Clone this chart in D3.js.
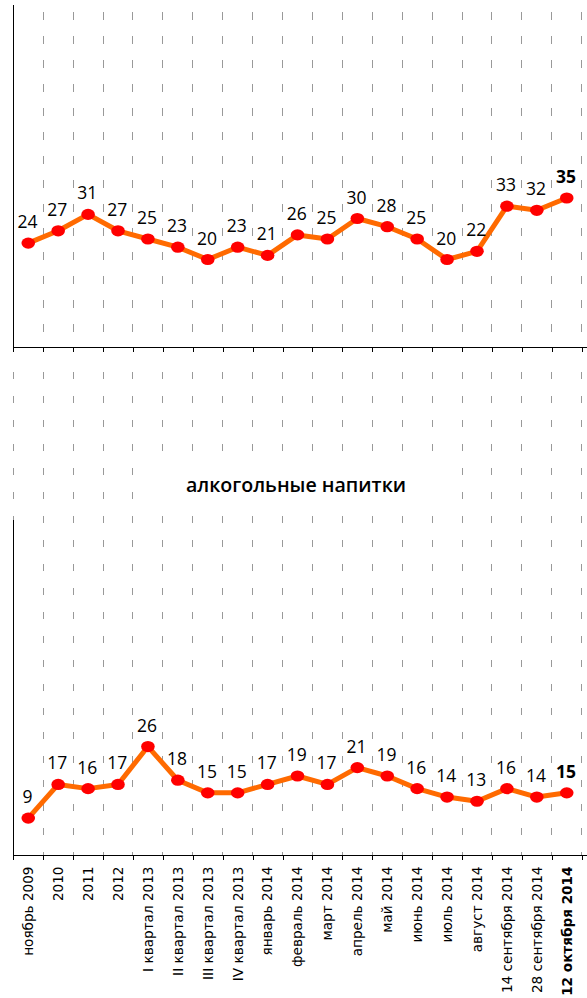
<!DOCTYPE html>
<html>
<head>
<meta charset="utf-8">
<script src="https://cdn.jsdelivr.net/npm/d3@7"></script>
<style>
  html, body { margin: 0; padding: 0; background: #fff; }
  svg { display: block; }
</style>
</head>
<body>
<svg id="chart" width="587" height="998"></svg>
<script>
const categories = ["ноябрь 2009","2010","2011","2012","I квартал 2013","II квартал 2013","III квартал 2013","IV квартал 2013","январь 2014","февраль 2014","март 2014","апрель 2014","май 2014","июнь 2014","июль 2014","август 2014","14 сентября 2014","28 сентября 2014","12 октября 2014"];
const topValues = [24,27,31,27,25,23,20,23,21,26,25,30,28,25,20,22,33,32,35];
const bottomValues = [9,17,16,17,26,18,15,15,17,19,17,21,19,16,14,13,16,14,15];
const bottomTitle = "алкогольные напитки";

const W = 587, H = 998;
const svg = d3.select("#chart");

const x0 = 13.3, x1 = 581.7;
const x = d3.scaleBand().domain(categories).range([x0, x1]).padding(0);
const bw = x.bandwidth();
const xb = d3.scaleLinear().domain([0, categories.length]).range([x0, x1]);
const cx = c => x(c) + bw / 2;
const last = categories.length - 1;

const lineColor = "#ff6a00", markerColor = "#ff0000", gridColor = "#999999";

function panel(values, yScale, opts) {
  const g = svg.append("g");
  const gridIdx = d3.range(opts.gridFrom, categories.length + 1);
  g.selectAll("line.grid").data(gridIdx).join("line")
    .attr("class", "grid")
    .attr("x1", i => xb(i)).attr("x2", i => xb(i))
    .attr("y1", opts.gridTop).attr("y2", opts.axisY)
    .attr("stroke", gridColor).attr("stroke-width", 1)
    .attr("stroke-dasharray", "7.7,16.3")
    .attr("shape-rendering", "crispEdges");

  if (opts.cover) {
    g.append("rect").attr("x", opts.cover[0]).attr("y", opts.cover[1])
      .attr("width", opts.cover[2]).attr("height", opts.cover[3]).attr("fill", "#fff");
    g.append("text").attr("x", opts.titleX)
      .attr("y", opts.titleY)
      .attr("text-anchor", "middle")
      .attr("font-family", "'Open Sans', sans-serif")
      .attr("font-weight", 600)
      .attr("font-size", 19.6)
      .attr("fill", "#000")
      .text(opts.title);
  }

  g.append("line").attr("x1", x0).attr("x2", x0)
    .attr("y1", opts.axisTop).attr("y2", opts.axisY)
    .attr("stroke", "#000").attr("stroke-width", 1).attr("shape-rendering", "crispEdges");
  g.append("line").attr("x1", x0).attr("x2", W)
    .attr("y1", opts.axisY).attr("y2", opts.axisY)
    .attr("stroke", "#000").attr("stroke-width", 1).attr("shape-rendering", "crispEdges");
  const tickAxis = d3.axisBottom(xb).tickValues(d3.range(0, categories.length + 1))
    .tickSize(5).tickFormat("");
  const ta = g.append("g").attr("transform", `translate(0,${opts.axisY})`).call(tickAxis);
  ta.select(".domain").remove();
  ta.selectAll(".tick line").attr("stroke", "#000").attr("shape-rendering", "crispEdges");

  const line = d3.line().x((d, i) => cx(categories[i])).y(d => yScale(d));
  g.append("path").datum(values)
    .attr("d", line).attr("fill", "none")
    .attr("stroke", lineColor).attr("stroke-width", 5).attr("stroke-linejoin", "round");

  g.selectAll("ellipse").data(values).join("ellipse")
    .attr("cx", (d, i) => cx(categories[i])).attr("cy", d => yScale(d))
    .attr("rx", 6.8).attr("ry", 5.6).attr("fill", markerColor);

  g.selectAll("text.val").data(values).join("text")
    .attr("class", "val")
    .attr("x", (d, i) => cx(categories[i]) - 0.8)
    .attr("y", d => yScale(d) - 15)
    .attr("text-anchor", "middle")
    .attr("font-family", "'Open Sans', sans-serif")
    .attr("font-size", 17.5)
    .attr("font-weight", (d, i) => i === last ? 700 : 400)
    .attr("fill", "#000")
    .text(d => d);
}

const yTop = d3.scaleLinear().domain([0, 80]).range([341.5, 13.5]);
const yBottom = d3.scaleLinear().domain([0, 80]).range([856, 519.2]);

panel(topValues, yTop, { axisY: 347, axisTop: 5, gridTop: 12.3, gridFrom: 1 });
panel(bottomValues, yBottom, { axisY: 855, axisTop: 520, gridTop: 371.7, gridFrom: 0,
  cover: [141, 458, 313, 48], titleX: 296, titleY: 492, title: bottomTitle });

const labAxis = d3.axisBottom(x).tickSize(0).tickPadding(0);
const la = svg.append("g").attr("transform", "translate(0,855)").call(labAxis);
la.select(".domain").remove();
la.selectAll(".tick text")
  .attr("transform", "rotate(-90)")
  .attr("x", -11.5).attr("y", 0).attr("dy", "0.36em")
  .attr("text-anchor", "end")
  .attr("font-family", "'DejaVu Sans', sans-serif")
  .attr("font-size", 13.6)
  .attr("font-weight", (d, i) => i === last ? 700 : 400)
  .attr("fill", "#000");
</script>
</body>
</html>
